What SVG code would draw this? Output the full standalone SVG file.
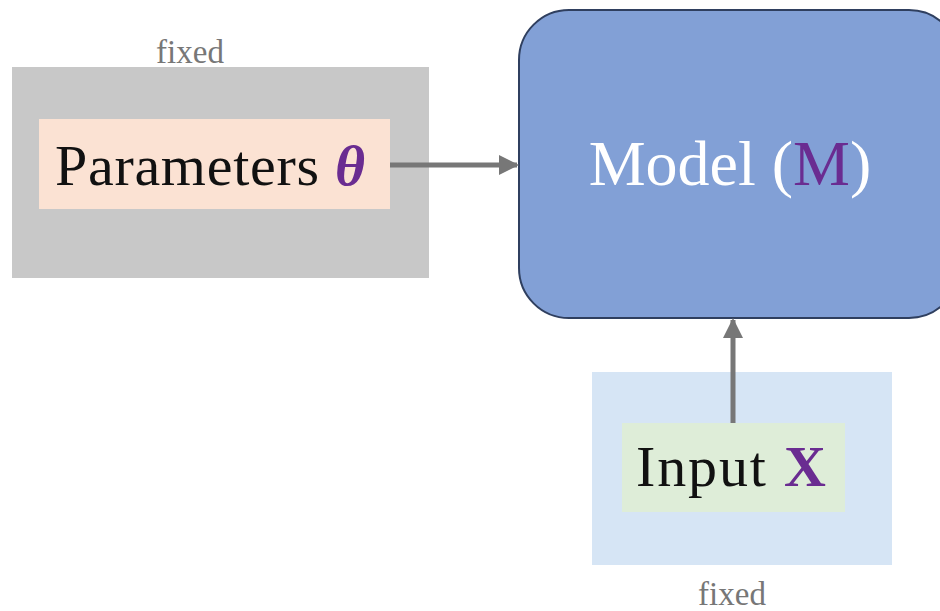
<svg xmlns="http://www.w3.org/2000/svg" width="940" height="611" viewBox="0 0 940 611">
<defs>
<style>
.t{font-family:"Liberation Serif","DejaVu Serif",serif;}
.lbl{font-size:58px;fill:#111;}
.fixed{font-size:33px;fill:#777;}
.pur{fill:#6A2C91;}
.conn{stroke:#777;stroke-width:5;fill:none;}
</style>
<marker id="ah" viewBox="0 0 10 10" refX="9" refY="5" markerWidth="4" markerHeight="4" markerUnits="strokeWidth" orient="auto">
<path d="M0,0 L10,5 L0,10 z" fill="#777"/>
</marker>
</defs>
<rect width="940" height="611" fill="#fff"/>
<g id="params-group">
<rect x="12" y="67" width="417" height="211" fill="#C8C8C8"/>
<text class="t fixed" x="190" y="63" text-anchor="middle">fixed</text>
</g>
<g id="params">
<rect x="39" y="119" width="351" height="90" fill="#FBE2D3"/>
<text class="t lbl" x="55" y="185" textLength="310" lengthAdjust="spacing">Parameters <tspan class="pur" font-weight="bold" font-style="italic">θ</tspan></text>
</g>
<g id="model">
<rect x="519" y="10" width="440" height="308" rx="50" ry="50" fill="#82A0D6" stroke="#2F3F5F" stroke-width="2"/>
<text class="t" x="730" y="185" text-anchor="middle" font-size="64" fill="#fff">Model (<tspan class="pur">M</tspan>)</text>
</g>
<g id="input-group">
<rect x="592" y="372" width="300" height="193" fill="#D6E5F5"/>
<text class="t fixed" x="732" y="605" text-anchor="middle">fixed</text>
</g>
<g id="input">
<rect x="622" y="423" width="223" height="89" fill="#DEEDD8"/>
<text class="t lbl" x="636" y="486" textLength="190" lengthAdjust="spacing">Input <tspan class="pur" font-weight="bold">X</tspan></text>
</g>
<g id="connectors">
<line class="conn" x1="390" y1="165" x2="517" y2="165" marker-end="url(#ah)"/>
<line class="conn" x1="733" y1="423" x2="733" y2="320" marker-end="url(#ah)"/>
</g>
</svg>
